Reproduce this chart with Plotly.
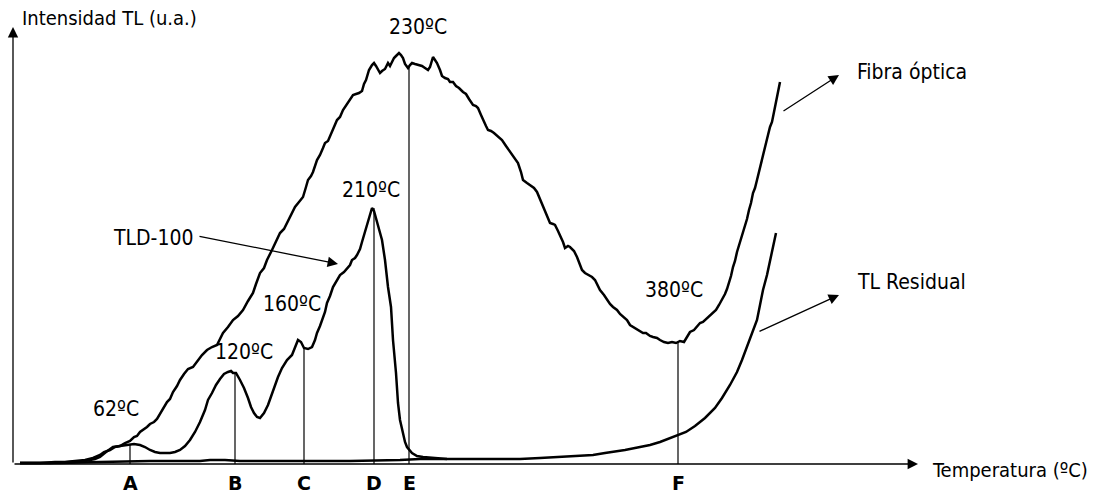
import plotly.graph_objects as go

# ---------------- data (position along temperature axis, intensity in u.a.) ----------------
fibra_x = [20, 40, 55, 65, 75, 85, 93, 97, 100, 104, 110, 115, 120, 125, 130, 134, 137, 140, 143, 147,
           150, 154, 157, 160, 163, 167, 170, 173, 177, 180, 184, 188, 193, 197, 202, 207, 212, 217, 220, 223,
           228, 233, 238, 243, 248, 253, 256, 260, 264, 267, 272, 277, 280, 284, 287, 291, 295, 299, 303, 306,
           308, 311, 313, 317, 320, 323, 325, 328, 331, 334, 337, 340, 343, 347, 350, 353, 356, 359, 362, 364,
           366, 369, 372, 374, 376, 378, 380, 382, 385, 388, 390, 392, 394, 396, 399, 401, 403, 405, 408, 410,
           412, 415, 418, 422, 425, 428, 430, 431, 433, 435, 437, 440, 442, 445, 448, 450, 453, 456, 459, 463,
           466, 469, 473, 476, 478, 481, 483, 486, 488, 491, 494, 498, 502, 506, 510, 514, 518, 521, 523, 527,
           530, 534, 537, 540, 543, 546, 550, 553, 555, 558, 560, 563, 565, 568, 570, 574, 577, 580, 582, 585,
           588, 592, 595, 598, 600, 604, 607, 610, 613, 617, 620, 624, 627, 630, 633, 637, 640, 643, 646, 650,
           653, 657, 660, 664, 668, 672, 676, 680, 684, 686, 688, 690, 694, 697, 700, 703, 706, 710, 713, 716,
           719, 722, 725, 727, 729, 731, 733, 735, 737, 740, 743, 745, 747, 749, 751, 753, 755, 757, 760, 762,
           764, 766, 768, 770, 772, 774, 775, 777, 778, 779, 780]
fibra_y = [1, 1, 2, 2, 3, 4, 6, 8, 9, 12, 14, 17, 18, 21, 23, 27, 28, 32, 34, 37,
           40, 42, 45, 50, 54, 62, 65, 72, 78, 84, 90, 95, 97, 102, 109, 114, 117, 119, 125, 131,
           137, 144, 148, 154, 163, 171, 180, 191, 196, 204, 214, 224, 231, 235, 241, 250, 257, 262, 267, 277,
           284, 288, 292, 304, 309, 316, 321, 323, 331, 337, 344, 347, 354, 360, 364, 369, 370, 371, 373, 380,
           384, 394, 399, 401, 398, 394, 391, 393, 395, 401, 398, 402, 406, 408, 411, 409, 406, 400, 396, 399,
           401, 400, 399, 398, 396, 394, 397, 401, 407, 404, 401, 394, 388, 386, 385, 382, 382, 378, 376, 372,
           370, 365, 359, 358, 356, 349, 344, 338, 334, 333, 331, 327, 324, 318, 312, 307, 301, 292, 284, 281,
           279, 276, 272, 265, 257, 250, 241, 240, 239, 233, 229, 222, 216, 218, 217, 213, 207, 200, 194, 191,
           189, 187, 184, 178, 174, 169, 164, 160, 157, 154, 150, 147, 144, 139, 137, 135, 133, 131, 131, 128,
           127, 126, 124, 122, 121, 122, 121, 123, 122, 125, 129, 132, 134, 138, 141, 142, 145, 149, 151, 154,
           159, 164, 170, 175, 181, 188, 197, 203, 212, 222, 231, 238, 245, 254, 261, 271, 276, 284, 297, 306,
           313, 321, 329, 337, 342, 352, 357, 367, 371, 376, 382]

tld_x = [20, 50, 70, 85, 95, 100, 106, 113, 120, 127, 134, 140, 145, 150, 155, 160, 165, 170, 175, 180,
         185, 190, 195, 200, 205, 208, 212, 216, 220, 224, 228, 231, 233, 236, 240, 244, 248, 251, 254, 257,
         260, 264, 268, 271, 274, 278, 282, 287, 292, 296, 298, 301, 304, 308, 312, 315, 317, 320, 323, 325,
         327, 330, 333, 336, 340, 344, 347, 350, 352, 355, 357, 360, 362, 365, 368, 370, 372, 374, 375, 378,
         380, 382, 385, 388, 391, 393, 396, 398, 400, 402, 405, 407, 412, 417, 423, 435, 447]
tld_y = [1, 1, 2, 3, 5, 7, 12, 17, 18, 19, 20, 19, 17, 14, 12, 11, 11, 11, 12, 14,
         18, 24, 32, 42, 54, 64, 71, 79, 85, 90, 92, 93, 91, 91, 84, 76, 66, 57, 51, 47,
         46, 51, 59, 67, 77, 87, 96, 104, 109, 119, 124, 122, 116, 115, 117, 124, 131, 138, 147, 152,
         161, 168, 177, 182, 189, 192, 196, 199, 204, 206, 209, 215, 222, 232, 244, 250, 256, 253, 249, 237,
         231, 224, 204, 177, 157, 124, 91, 61, 44, 34, 22, 17, 11, 8, 7, 6, 5]

resid_x = [20, 60, 100, 150, 200, 210, 225, 240, 300, 350, 400, 420, 450, 480, 500, 520, 540, 560, 580, 593,
           605, 613, 625, 640, 650, 660, 670, 678, 686, 695, 705, 715, 722, 730, 737, 742, 747, 752, 757, 760,
           763, 767, 770, 773, 776]
resid_y = [1, 1, 2, 3, 3, 4, 4, 3, 3, 3, 4, 5, 5, 5, 5, 5, 6, 7, 8, 9,
           11, 12, 14, 17, 19, 22, 26, 29, 32, 38, 46, 56, 66, 79, 92, 104, 117, 131, 144, 159,
           174, 189, 204, 216, 231]

peak_letters = ["A", "B", "C", "D", "E", "F"]
peak_x = [130, 235, 304, 374, 409, 678]
peak_top = [19, 92, 117, 256, 398, 122]
peak_labels = ["62ºC", "120ºC", "160ºC", "210ºC", "230ºC", "380ºC"]

# ---------------- layout helpers ----------------
FONT = "DejaVu Sans Condensed, Liberation Sans Narrow, DejaVu Sans, sans-serif"
label_pos = [(116, 55), (244, 112), (292, 160), (371, 274), (418, 437), (674, 174)]

fig = go.Figure()
line_style = dict(color="black", width=2.5)
for xs, ys, name in [(fibra_x, fibra_y, "Fibra óptica"), (tld_x, tld_y, "TLD-100"),
                     (resid_x, resid_y, "TL Residual")]:
    fig.add_trace(go.Scatter(x=xs, y=ys, mode="lines", line=line_style, name=name,
                             hoverinfo="skip", showlegend=False))

# vertical marker lines at the peaks
for px, top in zip(peak_x, peak_top):
    fig.add_trace(go.Scatter(x=[px, px], y=[0, top], mode="lines",
                             line=dict(color="black", width=1.2), hoverinfo="skip",
                             showlegend=False))

ann = []
arrow_style = dict(showarrow=True, arrowhead=2, arrowsize=1.6, arrowwidth=1.3, arrowcolor="black",
                   xref="x", yref="y", axref="x", ayref="y", text="")
# axes with arrows
ann.append(dict(x=13, y=437, ax=13, ay=0, **arrow_style))
ann.append(dict(x=918, y=0, ax=13, ay=0, **arrow_style))
ann.append(dict(x=20, y=446, xref="x", yref="y", text="Intensidad TL (u.a.)", showarrow=False,
                xanchor="left", yanchor="middle", font=dict(family=FONT, size=20, color="black")))
ann.append(dict(x=930, y=-6, xref="x", yref="y", text="Temperatura (ºC)", showarrow=False,
                xanchor="left", yanchor="middle", font=dict(family=FONT, size=20, color="black")))

for letter, px in zip(peak_letters, peak_x):
    ann.append(dict(x=px, y=-19, xref="x", yref="y", text="<b>" + letter + "</b>", showarrow=False,
                    xanchor="center", yanchor="middle",
                    font=dict(family="DejaVu Sans, sans-serif", size=19, color="black")))

for lab, (lx, ly) in zip(peak_labels, label_pos):
    ann.append(dict(x=lx, y=ly, xref="x", yref="y", text=lab, showarrow=False,
                    xanchor="center", yanchor="middle",
                    font=dict(family=FONT, size=21, color="black")))

# series labels with pointer arrows
ann.append(dict(x=839, y=389, ax=782, ay=352, **arrow_style))
ann.append(dict(x=855, y=392, xref="x", yref="y", text="Fibra óptica", showarrow=False,
                xanchor="left", yanchor="middle", font=dict(family=FONT, size=21, color="black")))
ann.append(dict(x=839, y=169, ax=758, ay=132, **arrow_style))
ann.append(dict(x=855, y=182, xref="x", yref="y", text="TL Residual", showarrow=False,
                xanchor="left", yanchor="middle", font=dict(family=FONT, size=21, color="black")))
ann.append(dict(x=338, y=200, ax=198, ay=228, **arrow_style))
ann.append(dict(x=195, y=226, xref="x", yref="y", text="TLD-100", showarrow=False,
                xanchor="right", yanchor="middle", font=dict(family=FONT, size=21, color="black")))

fig.update_layout(
    width=1098, height=494,
    margin=dict(l=0, r=0, t=0, b=0),
    paper_bgcolor="white", plot_bgcolor="white",
    xaxis=dict(range=[0, 1098], visible=False, fixedrange=True),
    yaxis=dict(range=[-30, 464], visible=False, fixedrange=True),
    annotations=ann,
    showlegend=False,
)

fig.write_html("out.html", config={"displayModeBar": False})
